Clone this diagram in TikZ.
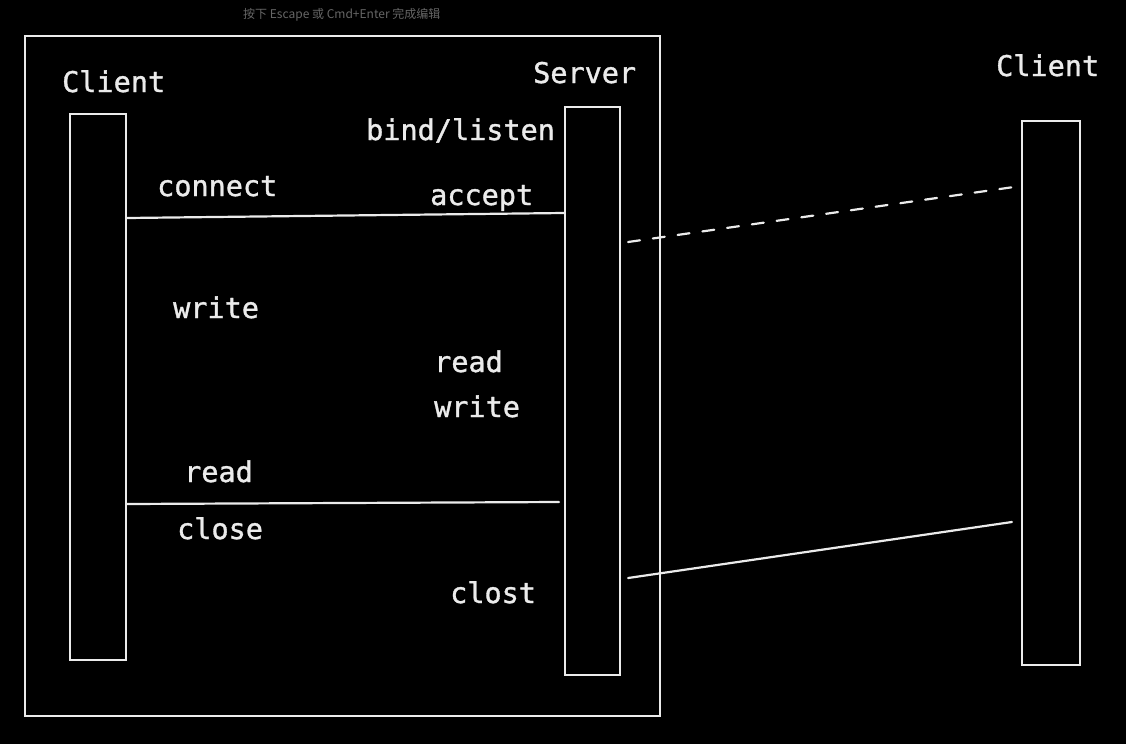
\documentclass[tikz,border=0pt]{standalone}
\usepackage{fontspec}
\setmonofont[FakeBold=1.2]{DejaVu Sans Mono}
\newfontfamily\cjk{Noto Sans CJK SC}
\usetikzlibrary{positioning}

\begin{document}
\begin{tikzpicture}[
    x=1pt, y=-1pt,
    chalk/.style={draw=white!92!black, line width=2.2pt},
    bar/.style={chalk, inner sep=0pt, minimum width=56pt},
    lbl/.style={text=white!92!black, inner sep=0pt, anchor=base west,
        font=\fontsize{28.5}{30}\selectfont\ttfamily},
    link/.style={chalk, line cap=round}
]

% Background
\fill[black] (0,0) rectangle (1126,744);
\node[text=white!40!black, anchor=west, inner sep=0pt,
    font=\fontsize{12}{14}\selectfont\cjk] (hint) at (243,15)
    {按下 Escape 或 Cmd+Enter 完成编辑};

% Frame round client and server
\node[chalk, inner sep=0pt, minimum width=635pt, minimum height=680pt] (frame) at (342.5,376) {};

% Lifelines
\node[bar, minimum height=546pt] (cl) at (98,387) {};
\node[bar, minimum width=55pt, minimum height=568pt] (srv) at (592.5,391) {};
\node[bar, minimum width=58pt, minimum height=544pt] (rc) at (1051,393) {};

% Labels
\node[lbl] (clname) at (62,92) {Client};
\node[lbl] (srvname) at (533,83) {Server};
\node[lbl] (rcname) at (996,76) {Client};
\node[lbl] (bind) at (366,140) {bind/listen};
\node[lbl] (conn) at (157,196) {connect};
\node[lbl] (acc) at (430,205) {accept};
\node[lbl] (cwrite) at (173,318) {write};
\node[lbl] (sread) at (434,372) {read};
\node[lbl] (swrite) at (434,417) {write};
\node[lbl] (cread) at (184,482) {read};
\node[lbl] (cclose) at (177,539) {close};
\node[lbl] (sclose) at (450,603) {clost};

% Connections
\draw[link] (cl.east |- 0,218) -- (srv.west |- 0,213);
\draw[link] (cl.east |- 0,504) -- ([xshift=-5pt]srv.west |- 0,502);
\draw[link, dash pattern=on 12pt off 13pt] ([xshift=7pt]srv.east |- 0,242) -- ([xshift=-7pt]rc.west |- 0,187);
\draw[link] ([xshift=7pt]srv.east |- 0,578) -- ([xshift=-9pt]rc.west |- 0,522);

\end{tikzpicture}
\end{document}
